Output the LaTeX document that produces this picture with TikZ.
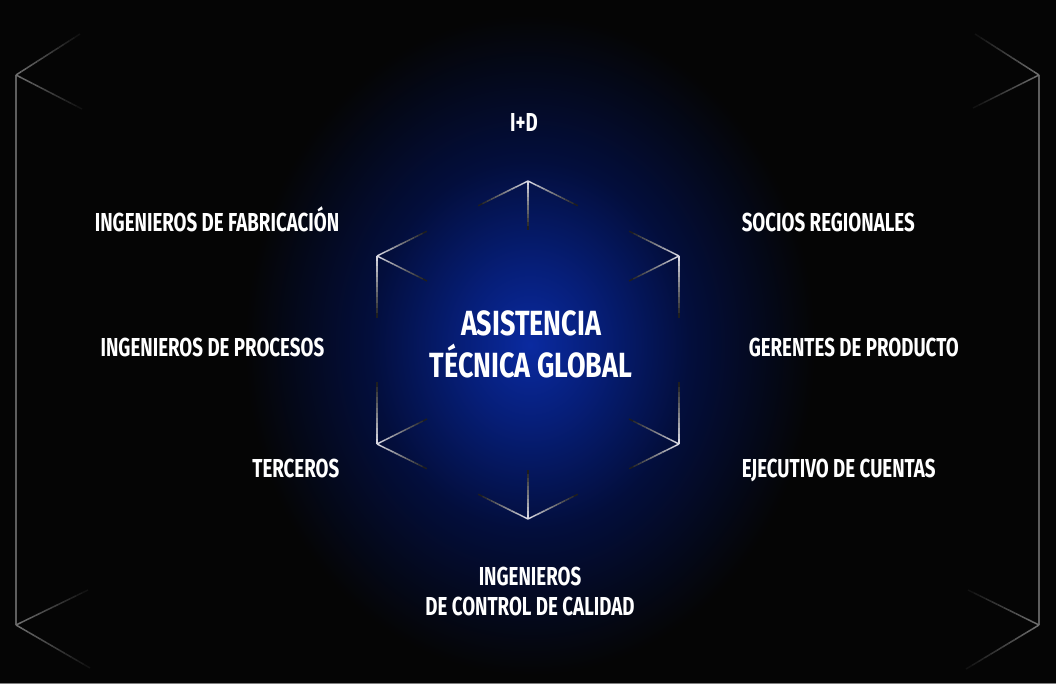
\documentclass[tikz,border=0pt]{standalone}
\usepackage{fontspec}
\setmainfont{Fira Sans}[FakeStretch=0.72]
\newfontfamily\titlefont{Fira Sans}[FakeStretch=0.77]
\usetikzlibrary{calc}

\definecolor{bgblack}{RGB}{5,5,5}
\definecolor{glowA}{RGB}{10,42,160}
\definecolor{glowB}{RGB}{6,30,120}
\definecolor{glowC}{RGB}{3,14,60}
\definecolor{edgegrey}{RGB}{110,110,110}
\definecolor{hexwhite}{RGB}{215,215,225}

\pgfdeclareradialshading{glow}{\pgfpoint{0bp}{0bp}}{%
  color(0bp)=(glowA); color(6bp)=(glowB); color(14bp)=(glowC);
  color(25bp)=(bgblack); color(50bp)=(bgblack)}

% fading stroke from #1 to #2, colour #3 fading into the background
\newcommand\fadeseg[3]{%
  \foreach \k in {0,...,11}{%
    \pgfmathtruncatemacro\mix{100-\k*8}
    \draw[#3!\mix!bgblack] ($(#1)!\k/12!(#2)$) -- ($(#1)!{(\k+1)/12}!(#2)$);
  }}

\tikzset{
  label/.style={text=white, inner sep=0pt, font=\bfseries\fontsize{26}{30}\selectfont},
  title/.style={text=white, inner sep=0pt, align=center, font=\titlefont\bfseries\fontsize{35}{42}\selectfont}
}

\begin{document}
\begin{tikzpicture}[x=1pt, y=-1pt, line width=1.5pt]
\useasboundingbox (0,0) rectangle (1056,684);
\fill[bgblack] (0,0) rectangle (1056,684);
\draw[gray, line width=1pt] (0,683.5) -- (1056,683.5);

% glow
\shade[shading=glow] (530,345) ellipse [x radius=285, y radius=330];

% outer brackets
\coordinate (otl) at (16,75);
\coordinate (obl) at (16,625);
\coordinate (otr) at (1039,75);
\coordinate (obr) at (1039,625);
\draw[edgegrey!85!bgblack] (otl) -- (obl);
\draw[edgegrey!85!bgblack] (otr) -- (obr);
\fadeseg{otl}{80,34}{edgegrey}
\fadeseg{otl}{82,109}{edgegrey}
\fadeseg{obl}{88,590}{edgegrey}
\fadeseg{obl}{90,668}{edgegrey}
\fadeseg{otr}{975,34}{edgegrey}
\fadeseg{otr}{973,108}{edgegrey}
\fadeseg{obr}{968,590}{edgegrey}
\fadeseg{obr}{966,669}{edgegrey}

% hexagon corners
\coordinate (ht) at (528,181);
\coordinate (hur) at (679,256);
\coordinate (hlr) at (679,444);
\coordinate (hb) at (528,519);
\coordinate (hll) at (377,444);
\coordinate (hul) at (377,256);
\foreach \v/\a/\b/\c in {ht/hul/hur/{0,49}, hur/ht/hlr/{-50,25}, hlr/hur/hb/{-50,-25},
                         hb/hlr/hll/{0,-49}, hll/hb/hul/{50,-25}, hul/hll/ht/{50,25}}{
  \fadeseg{\v}{$(\v)!0.33!(\a)$}{hexwhite}
  \fadeseg{\v}{$(\v)!0.33!(\b)$}{hexwhite}
  \fadeseg{\v}{$(\v)+(\c)$}{hexwhite}
}

% texts
\node[title, anchor=base] (core) at (531,377) {ASISTENCIA\\TÉCNICA GLOBAL};
\node[label, anchor=base] (rnd) at (524,132) {I+D};
\node[label, anchor=base east] (fab) at (340,232) {INGENIEROS DE FABRICACIÓN};
\node[label, anchor=base east] (proc) at (325,356) {INGENIEROS DE PROCESOS};
\node[label, anchor=base east] (third) at (340,477) {TERCEROS};
\node[label, anchor=base west] (socios) at (741,232) {SOCIOS REGIONALES};
\node[label, anchor=base west] (prod) at (748,356) {GERENTES DE PRODUCTO};
\node[label, anchor=base west] (acct) at (741,477) {EJECUTIVO DE CUENTAS};
\node[label, anchor=base, align=center] (qc) at (530,615) {INGENIEROS\\DE CONTROL DE CALIDAD};
\end{tikzpicture}
\end{document}
